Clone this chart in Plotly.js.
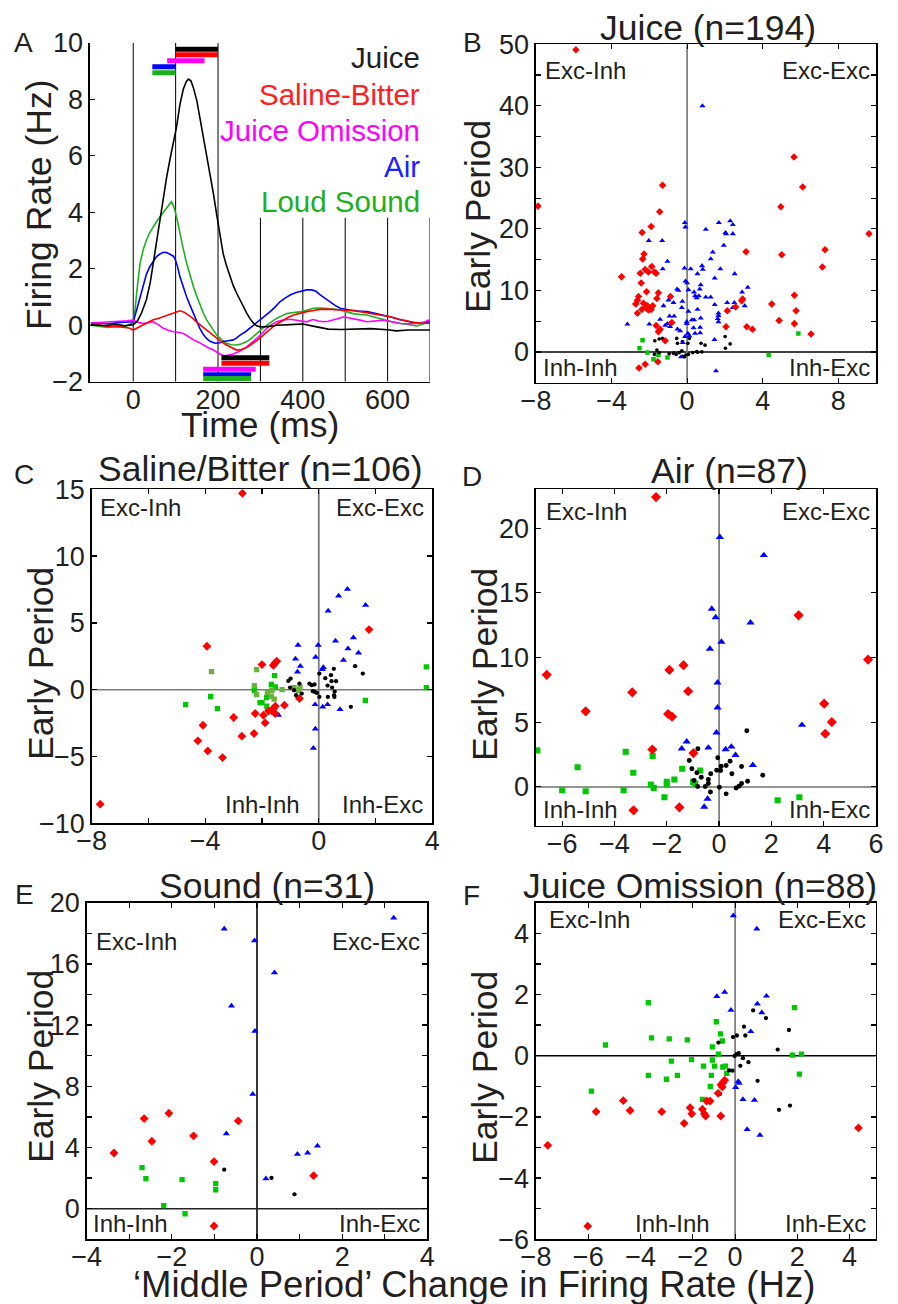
<!DOCTYPE html>
<html><head><meta charset="utf-8">
<script src="https://cdn.plot.ly/plotly-3.0.1.min.js"></script>
<style>html,body{margin:0;padding:0;background:#fff}</style>
</head><body><div id="chart" style="width:898px;height:1304px"></div>
<script>
// ---------------- DATA ----------------
// Panel A: population firing-rate curves  [time ms, rate Hz]
const juiceCurve = [[-100,0.02],[-70,-0.02],[-40,0.03],[-20,-0.02],[0,0.02],[10,0.15],[20,0.45],[31,0.9],[40,1.5],[47,2.2],[55,3.0],[63,3.84],[71,4.6],[79,5.26],[87,5.9],[94,6.44],[102,7.0],[110,7.8],[118,8.35],[125,8.62],[130,8.71],[136,8.65],[142,8.4],[150,7.95],[157,7.38],[165,6.7],[173,5.96],[181,5.3],[189,4.67],[197,3.9],[205,3.2],[212,2.54],[220,2.1],[228,1.72],[236,1.4],[244,1.13],[252,0.88],[260,0.65],[268,0.42],[275,0.24],[283,0.08],[291,-0.02],[300,-0.06],[315,-0.05],[340,0.0],[370,0.02],[400,0.04],[430,-0.05],[460,-0.14],[490,-0.15],[520,-0.13],[560,-0.12],[600,-0.16],[620,-0.2],[650,-0.17],[680,-0.16],[700,-0.17]];
const salineCurve = [[-100,0.06],[-80,0.02],[-55,-0.05],[-30,-0.06],[-10,-0.1],[0,-0.17],[12,-0.08],[24,0.0],[35,0.1],[47,0.19],[59,0.24],[71,0.3],[80,0.36],[90,0.41],[100,0.47],[110,0.51],[120,0.46],[130,0.36],[140,0.25],[149,0.12],[161,-0.02],[173,-0.17],[185,-0.32],[197,-0.47],[209,-0.6],[220,-0.7],[232,-0.8],[244,-0.88],[254,-0.86],[264,-0.82],[273,-0.74],[283,-0.64],[295,-0.5],[307,-0.35],[318,-0.2],[330,-0.05],[342,0.07],[354,0.19],[366,0.28],[378,0.36],[393,0.42],[409,0.48],[425,0.52],[441,0.56],[457,0.57],[472,0.56],[488,0.55],[503,0.54],[519,0.51],[535,0.48],[551,0.44],[566,0.41],[586,0.35],[606,0.3],[625,0.22],[645,0.15],[661,0.1],[677,0.08],[700,0.06]];
const omissionCurve = [[-100,0.08],[-70,0.1],[-39,0.14],[-15,0.16],[0,0.18],[12,0.1],[24,0.06],[35,0.1],[47,0.12],[59,0.02],[71,-0.11],[83,-0.18],[94,-0.23],[106,-0.25],[118,-0.29],[130,-0.4],[142,-0.52],[154,-0.6],[165,-0.7],[177,-0.8],[189,-0.88],[199,-0.98],[209,-1.06],[218,-1.08],[228,-1.06],[236,-1.02],[244,-0.97],[256,-0.88],[268,-0.76],[280,-0.62],[291,-0.47],[303,-0.3],[315,-0.11],[327,0.03],[338,0.12],[350,0.17],[362,0.2],[374,0.2],[386,0.18],[398,0.14],[409,0.12],[417,0.17],[425,0.2],[437,0.15],[448,0.12],[460,0.14],[472,0.18],[484,0.24],[496,0.3],[507,0.27],[519,0.24],[535,0.18],[551,0.12],[570,0.15],[590,0.18],[610,0.12],[629,0.06],[649,0.05],[669,0.06],[685,0.1],[696,0.18],[700,0.15]];
const airCurve = [[-100,0.08],[-60,0.05],[-30,0.1],[0,0.12],[8,0.54],[16,1.0],[24,1.48],[31,1.8],[39,2.07],[47,2.27],[55,2.43],[63,2.52],[71,2.58],[79,2.57],[87,2.52],[94,2.45],[98,2.37],[104,2.1],[110,1.72],[118,1.35],[126,1.0],[134,0.7],[142,0.41],[150,0.12],[157,-0.11],[165,-0.32],[173,-0.47],[181,-0.57],[193,-0.64],[205,-0.62],[212,-0.58],[224,-0.55],[236,-0.52],[244,-0.45],[252,-0.35],[264,-0.24],[275,-0.11],[287,0.04],[299,0.19],[311,0.33],[323,0.48],[335,0.65],[346,0.83],[358,0.96],[370,1.07],[384,1.16],[397,1.22],[409,1.25],[421,1.25],[431,1.2],[441,1.07],[452,0.95],[464,0.83],[476,0.7],[488,0.6],[500,0.56],[511,0.54],[531,0.5],[551,0.48],[570,0.42],[590,0.36],[610,0.28],[629,0.19],[649,0.12],[669,0.07],[690,0.1],[700,0.12]];
const soundCurve = [[-100,0.0],[-80,-0.05],[-60,-0.08],[-40,-0.03],[-20,-0.05],[0,0.1],[4,0.5],[8,1.13],[12,1.7],[16,2.19],[24,2.7],[31,3.01],[39,3.28],[47,3.49],[55,3.67],[63,3.84],[71,4.0],[79,4.14],[85,4.28],[90,4.37],[94,4.25],[98,4.08],[104,3.7],[110,3.25],[118,2.7],[126,2.19],[134,1.75],[142,1.36],[150,1.02],[157,0.72],[165,0.44],[173,0.19],[185,-0.1],[197,-0.35],[209,-0.52],[220,-0.64],[232,-0.69],[244,-0.7],[256,-0.66],[268,-0.58],[280,-0.45],[291,-0.29],[303,-0.14],[315,0.0],[327,0.13],[338,0.24],[350,0.33],[362,0.41],[378,0.45],[393,0.47],[409,0.53],[425,0.6],[441,0.61],[456,0.6],[472,0.57],[488,0.54],[503,0.48],[519,0.41],[535,0.38],[551,0.36],[570,0.28],[590,0.19],[610,0.12],[629,0.07],[649,0.02],[669,-0.03],[685,0.05],[700,0.12]];

const conditionNames = ['Juice','Saline-Bitter','Juice Omission','Air','Loud Sound'];
const conditionColors = ['#000000','#ff0000','#ff00ff','#0000ff','#1db01d'];
const legendTextColors = ['#231f20','#ff2020','#ff00ff','#2020ff','#1db01d'];
// significance bars (ms) per condition, early (top) and middle (bottom) periods
const sigTopStart = [100,100,80,45,45];
const sigTopEnd   = [200,200,168,100,100];
const sigTopLevel = [9.77,9.57,9.36,9.15,8.94];
const sigBotStart = [208,208,165,165,165];
const sigBotEnd   = [321,321,289,278,278];
const sigBotLevel = [-1.15,-1.35,-1.56,-1.74,-1.89];
const timeMarkers = [0,100,200,300,400,500,600,700];

// Panel B: Juice (n=194)  [middle change, early change]
const bRed = [[-5.89,49.1],[-7.9,23.7],[-1.3,27.1],[-1.45,22.8],[-2.38,19.4],[-1.9,20.4],[-2.28,15.9],[-2.35,15.1],[-3.47,12.2],[-2.48,12.8],[-2.22,13.4],[-1.87,13.9],[-2.05,13.0],[-1.73,13.0],[-1.64,12.8],[-2.43,11.2],[-2.15,9.8],[-1.52,9.6],[-1.6,8.7],[-0.88,9.0],[-2.57,9.0],[-2.63,8.4],[-2.72,7.8],[-2.31,7.9],[-2.1,7.5],[-2.17,7.2],[-2.4,6.9],[-2.63,6.3],[-1.82,7.5],[-1.9,6.9],[-2.05,6.8],[-1.64,4.3],[-1.52,3.3],[-1.43,3.7],[-1.16,1.8],[-0.81,4.8],[-2.55,-2.6],[-2.22,-2.0],[-1.55,-1.6],[3.12,16.3],[3.16,4.1],[3.46,3.7],[2.57,7.3],[2.89,8.3],[2.94,8.6],[2.13,6.7],[2.06,4.1],[5.66,31.7],[6.12,26.8],[4.96,23.6],[5.01,15.8],[4.48,7.8],[4.87,5.1],[5.68,9.2],[5.77,6.7],[5.68,4.6],[6.56,2.9],[7.3,16.6],[7.16,13.8],[9.63,19.2]];
const bBlue = [[-0.12,21.0],[-0.09,20.3],[1.68,21.0],[2.28,21.3],[2.42,20.7],[0.99,19.9],[2.03,19.4],[2.06,19.2],[2.42,19.2],[-2.03,18.1],[-1.32,18.1],[1.94,17.3],[1.36,16.2],[1.25,15.1],[-1.04,14.7],[1.76,13.5],[0.79,14.0],[0.83,13.4],[-0.14,13.6],[0.19,13.5],[-1.29,13.5],[0.55,12.7],[-0.09,11.5],[0.0,11.2],[1.46,12.0],[0.72,10.9],[0.67,10.2],[2.52,12.7],[-0.53,10.2],[-0.46,10.0],[0.07,10.1],[0.37,9.7],[0.62,9.1],[0.99,8.9],[1.25,8.9],[0.42,9.1],[0.51,8.8],[-0.99,8.4],[-0.72,8.0],[-0.25,8.2],[-1.85,7.5],[-1.25,7.5],[1.46,7.7],[2.12,8.0],[2.42,7.2],[2.5,8.0],[-0.28,7.2],[0.55,6.9],[0.07,6.6],[-0.69,5.8],[-1.43,5.3],[-0.93,5.8],[1.66,6.3],[1.66,5.9],[1.66,4.9],[1.62,5.4],[0.72,5.5],[0.25,5.2],[0.37,5.2],[-0.02,4.9],[-0.02,4.6],[-3.16,4.5],[-2.0,4.5],[-1.16,4.3],[-1.04,4.6],[-0.9,4.1],[-0.51,3.7],[-0.37,3.4],[-1.43,3.7],[0.34,3.9],[0.42,3.0],[0.69,4.0],[0.69,3.1],[0.04,3.0],[0.12,2.6],[-0.11,2.5],[1.45,2.0],[-0.23,1.5],[-0.32,-0.8],[1.53,-3.1],[0.81,40.0],[3.21,10.5],[2.91,9.7],[3.05,7.5]];
const bBlack = [[-1.71,1.8],[-1.48,2.1],[-1.31,2.2],[-0.55,2.2],[-0.51,1.4],[-0.25,1.7],[0.04,1.4],[0.12,2.2],[0.74,1.4],[0.95,1.1],[-1.6,0.3],[-1.48,-0.1],[-0.95,-0.3],[-0.72,-0.2],[-0.58,-0.4],[-0.42,-0.1],[-0.28,0.2],[-0.23,-0.7],[-0.14,-0.8],[-0.07,-0.5],[0.07,-0.4],[0.3,-0.1],[0.51,0.05],[0.56,-0.05],[0.78,0.0],[-1.73,-0.4],[2.01,2.5],[2.28,1.3],[2.03,0.6]];
const bGreen = [[-2.36,1.9],[-2.52,0.6],[-2.1,-0.1],[-1.78,-1.2],[-1.52,-0.5],[-1.04,-0.9],[4.32,-0.5],[5.89,3.0]];

// Panel C: Saline/Bitter (n=106)
const cRed = [[-2.69,14.7],[-7.7,-8.57],[-3.94,3.25],[-2.0,1.88],[-1.6,1.83],[-1.54,2.0],[-1.48,2.13],[1.77,4.5],[-0.68,-0.66],[-1.21,-1.16],[-1.53,-1.24],[-1.6,-1.41],[-1.65,-1.58],[-1.77,-1.58],[-1.54,-1.78],[-1.95,-1.91],[-2.24,-1.78],[-1.89,-2.48],[-3.0,-2.08],[-4.08,-2.66],[-2.71,-3.48],[-2.28,-3.28],[-4.26,-3.83],[-3.91,-4.58],[-3.39,-5.08]];
const cBlue = [[1.01,7.52],[0.7,7.02],[1.65,6.32],[0.33,5.9],[0.59,3.65],[1.22,3.9],[1.03,3.08],[1.4,2.76],[0.87,2.21],[-0.73,3.33],[-0.02,3.33],[-0.82,2.31],[-0.11,2.43],[-0.65,1.76],[-0.75,1.33],[0.16,1.66],[0.13,1.51],[-0.13,-1.11],[0.14,-1.28],[0.31,-1.11],[0.75,-1.48],[-1.42,-1.91],[-0.12,-2.93],[-0.19,-4.38]];
const cBlack = [[-1.07,0.66],[-0.99,0.83],[-1.01,0.16],[-0.87,-0.04],[-0.68,0.46],[-0.8,-0.41],[-0.74,-0.59],[-0.6,-0.29],[-0.33,0.46],[-0.25,0.34],[-0.15,0.39],[-0.21,-0.11],[-0.15,-0.16],[-0.07,-0.24],[0.02,-0.54],[0.02,1.21],[0.23,0.86],[0.43,1.09],[0.53,1.56],[0.31,0.31],[0.45,0.64],[0.61,0.64],[0.47,0.16],[0.56,-0.14],[0.54,-0.41],[0.32,-0.54],[0.55,-0.54],[1.28,1.76],[1.55,1.21],[1.13,-1.28]];
const cGreen = [[-4.69,-1.11],[-3.81,-0.51],[-3.57,-1.41],[-2.27,-0.06],[-1.56,1.06],[-1.67,0.39],[-1.53,0.21],[-1.84,-0.59],[-2.07,-0.96],[-2.0,-0.96],[-1.83,-1.24],[1.64,-0.81],[3.79,1.71],[3.79,0.16]];
const cOlive = [[-3.78,1.36],[-2.19,1.51],[-2.27,0.31],[-2.19,-0.36],[-1.81,-0.21],[-1.65,-0.04],[-1.67,-0.49],[-1.57,-0.71],[-1.29,0.01],[-0.87,0.16],[-0.66,0.21],[-0.72,-0.04]];

// Panel D: Air (n=87)
const dRed = [[-2.41,22.4],[-6.59,8.66],[-5.1,5.84],[-3.32,7.31],[-1.9,9.04],[-1.36,9.41],[-1.18,7.39],[-1.95,5.63],[-1.8,5.43],[-2.55,2.89],[-0.98,2.61],[-3.27,-1.81],[-1.52,-1.58],[3.04,13.26],[5.7,9.84],[4.02,6.43],[4.31,5.01],[4.06,4.11]];
const dBlue = [[0.03,19.3],[1.71,17.9],[-0.28,13.75],[-0.13,13.1],[1.2,12.7],[0.09,11.2],[-0.35,10.67],[-0.06,8.06],[-0.06,6.12],[-0.1,4.19],[3.17,4.78],[-1.24,3.49],[-1.43,2.95],[-0.41,3.02],[0.25,2.89],[0.47,3.1],[0.63,2.45],[1.29,1.68],[-0.44,-0.93],[-0.57,-1.55]];
const dBlack = [[1.06,4.34],[-0.81,2.95],[-0.05,2.25],[-1.14,2.04],[-1.04,1.4],[-0.85,1.09],[-0.32,1.01],[-0.68,0.75],[-0.41,0.57],[-0.96,0.49],[-0.41,0.26],[-0.82,0.03],[-0.53,0.03],[-0.33,-0.39],[-0.09,1.29],[0.06,1.27],[0.08,1.6],[0.27,1.65],[0.42,1.99],[0.86,1.58],[0.49,1.01],[0.01,-0.03],[0.27,-0.54],[0.65,-0.08],[0.76,0.05],[0.86,0.26],[1.09,0.44],[1.67,0.9]];
const dGreen = [[-6.95,2.82],[-5.41,1.52],[-6.0,-0.26],[-5.1,-0.34],[-3.57,2.71],[-3.28,1.09],[-3.65,-0.26],[-2.54,2.38],[-2.61,0.18],[-2.5,-0.08],[-2.0,0.39],[-2.0,0.18],[-2.09,-0.8],[-1.71,0.57],[-1.41,1.4],[-0.72,1.27],[-0.99,0.39],[-0.91,0.23],[2.24,-1.03],[3.07,-0.8]];

// Panel E: Sound (n=31)
const eRed = [[-3.36,3.64],[-2.65,5.89],[-2.07,6.24],[-2.47,4.41],[-1.49,4.76],[-0.44,5.74],[-1.01,3.08],[-1.01,-1.13],[1.33,2.16]];
const eBlue = [[-0.77,18.28],[-0.06,17.52],[3.21,19.0],[0.41,15.42],[-0.6,13.26],[-0.05,11.6],[-0.1,7.48],[-0.72,4.91],[0.21,1.96],[0.95,3.56],[1.19,3.64],[1.42,4.1]];
const eBlack = [[-0.77,2.55],[0.34,2.01],[0.88,0.94]];
const eGreen = [[-2.7,2.68],[-2.61,1.96],[-1.76,1.9],[-0.97,1.64],[-0.97,1.24],[-2.19,0.2],[-1.69,-0.33]];

// Panel F: Juice Omission (n=88)
const fRed = [[-4.66,-1.47],[-5.7,-1.83],[-4.4,-1.79],[-3.19,-1.83],[-2.33,-2.21],[-2.1,-1.7],[-2.04,-1.9],[-1.63,-1.75],[-1.56,-1.9],[-1.51,-1.97],[-1.47,-1.48],[-1.34,-1.48],[-0.93,-1.97],[-1.03,-1.23],[-0.92,-0.95],[-0.85,-0.88],[-0.78,-0.8],[-0.87,-1.02],[-7.55,-2.93],[-6.02,-5.57],[4.34,-2.36]];
const fBlue = [[-0.45,4.58],[0.45,4.14],[-1.08,1.94],[-0.78,2.08],[0.82,1.95],[0.47,1.69],[0.64,1.41],[-0.54,1.49],[0.22,0.79],[-0.26,-0.84],[-0.23,-0.9],[-0.36,-1.04],[-0.08,-1.43],[0.36,-1.45],[0.08,-2.41],[0.57,-2.6]];
const fBlack = [[0.31,1.48],[0.8,1.23],[-0.04,0.95],[-0.46,0.61],[-0.31,0.66],[0.01,0.66],[-1.02,0.43],[1.68,0.84],[1.25,0.2],[-0.4,-0.01],[-0.32,0.05],[-0.24,0.08],[-0.08,-0.08],[0.13,-0.21],[-0.18,-0.33],[-0.61,-0.48],[-0.48,-0.49],[0.48,-0.82],[-0.96,-1.25],[1.3,-1.77],[1.72,-1.63]];
const fGreen = [[-3.7,1.73],[-5.34,0.35],[-3.58,0.58],[-2.9,0.55],[-2.21,0.52],[-1.1,1.11],[-0.94,0.71],[-0.87,0.48],[-1.25,0.29],[-1.02,0.05],[-2.82,-0.18],[-2.05,-0.13],[-1.25,-0.14],[-1.59,-0.34],[-1.17,-0.34],[-0.85,-0.37],[-0.75,-0.34],[-0.7,-0.58],[-3.7,-0.64],[-2.59,-0.64],[-3.01,-0.77],[-1.29,-0.64],[-1.33,-1.0],[-5.88,-1.16],[-1.63,-1.43],[1.89,1.57],[1.81,0.02],[2.16,0.05],[2.08,-0.6]];

const panelTitles = ['Juice (n=194)','Saline/Bitter (n=106)','Air (n=87)','Sound (n=31)','Juice Omission (n=88)'];
const quadrantLabels = ['Exc-Inh','Exc-Exc','Inh-Inh','Inh-Exc'];

// ---------------- LAYOUT HELPERS ----------------
const W = 898, H = 1304;
const FONT = "'Liberation Sans', Arial, Helvetica, sans-serif";
const TXT = '#231f20';
const boxes = {A:[90,430,42.7,381.7],B:[536,876,44.3,382.7],C:[91.7,432.3,489.3,823.3],D:[536,876,489.3,825.7],E:[86.7,427.3,902.7,1239.3],F:[536,875.7,902.7,1239.3]};
const xd = b => [b[0]/W, b[1]/W];
const yd = b => [1-b[3]/H, 1-b[2]/H];
const minus = v => (v<0 ? '\u2212'+Math.abs(v) : String(v));

function axis(extra){
  return Object.assign({showline:true,linecolor:'#000',linewidth:1.6,mirror:'ticks',ticks:'inside',ticklen:5,tickwidth:1.2,tickcolor:'#000',
    showgrid:false,zeroline:false,tickmode:'array',fixedrange:true,tickfont:{family:FONT,size:27,color:TXT}},extra);
}
function xaxis(extra){ return axis(Object.assign({ticklabelstandoff:-7},extra)); }
function ticks(vals, every){ return {tickvals:vals, ticktext:vals.map((v,i)=> (i%every===0? minus(v):''))}; }
function ann(text,px,py,size,o){
  o=o||{};
  return {text, x:px/W, y:1-py/H, xref:'paper', yref:'paper', showarrow:false, textangle:o.angle||0,
    font:{family:FONT,size,color:o.color||TXT}, xanchor:o.xa||'center', yanchor:'middle', borderpad:0};
}

const traces = [];
const shapes = [];
const annotations = [];

// ---------------- PANEL A ----------------
const curves = [juiceCurve, salineCurve, omissionCurve, airCurve, soundCurve];
timeMarkers.forEach(t=>{
  shapes.push({type:'line',xref:'x',yref:'y',x0:t,x1:t,y0:-2,y1:(t<300?10:3.8),line:{color:'#000',width:1},layer:'below'});
});
[4,3,2,1,0].forEach(i=>{
  traces.push({type:'scatter',mode:'lines',xaxis:'x',yaxis:'y',x:curves[i].map(p=>p[0]),y:curves[i].map(p=>p[1]),
    line:{color:conditionColors[i],width:1.6},hoverinfo:'skip'});
});
for(let i=0;i<5;i++){
  traces.push({type:'scatter',mode:'lines',xaxis:'x',yaxis:'y',x:[sigTopStart[i],sigTopEnd[i]],y:[sigTopLevel[i],sigTopLevel[i]],
    line:{color:conditionColors[i],width:5},hoverinfo:'skip',cliponaxis:false});
  traces.push({type:'scatter',mode:'lines',xaxis:'x',yaxis:'y',x:[sigBotStart[i],sigBotEnd[i]],y:[sigBotLevel[i],sigBotLevel[i]],
    line:{color:conditionColors[i],width:(i===3?4:5)},hoverinfo:'skip',cliponaxis:false});
}
const legendY = [57.5,94,130.5,166,201.7];
conditionNames.forEach((n,i)=>annotations.push(ann(n,421,legendY[i],29.5,{color:legendTextColors[i],xa:'right'})));

// ---------------- SCATTER PANELS ----------------
const markerStyles = {
  red:{symbol:'diamond',size:6.8,color:'#ff0000'},
  blue:{symbol:'triangle-up',size:6.3,color:'#0000ff'},
  green:{symbol:'square',size:5.3,color:'#00c800'},
  olive:{symbol:'square',size:5.3,color:'#6ab23a'},
  black:{symbol:'circle',size:4.3,color:'#000000'}
};
function addPoints(pts, style, xa, ya, scale){
  const m = markerStyles[style];
  traces.push({type:'scatter',mode:'markers',xaxis:xa,yaxis:ya,x:pts.map(p=>p[0]),y:pts.map(p=>p[1]),
    marker:{symbol:m.symbol,size:m.size*scale,color:m.color,line:{width:0}},hoverinfo:'skip'});
}
const panels = [
  {key:'B',xa:'x2',ya:'y2',xr:[-8,10],yr:[-5,50],zx:0,hcol:'#000',vcol:'#808080',scale:0.85,sets:[[bGreen,'green'],[bBlack,'black'],[bBlue,'blue'],[bRed,'red']]},
  {key:'C',xa:'x3',ya:'y3',xr:[-8,4],yr:[-10,15],zx:0,hcol:'#7a7a7a',vcol:'#7a7a7a',scale:1.0,sets:[[cGreen,'green'],[cOlive,'olive'],[cBlack,'black'],[cBlue,'blue'],[cRed,'red']]},
  {key:'D',xa:'x4',ya:'y4',xr:[-7,6],yr:[-3,23],zx:0,hcol:'#707070',vcol:'#808080',scale:1.15,sets:[[dGreen,'green'],[dBlack,'black'],[dBlue,'blue'],[dRed,'red']]},
  {key:'E',xa:'x5',ya:'y5',xr:[-4,4],yr:[-2,20],zx:0,hcol:'#222',vcol:'#222',scale:1.0,sets:[[eGreen,'green'],[eBlack,'black'],[eBlue,'blue'],[eRed,'red']]},
  {key:'F',xa:'x6',ya:'y6',xr:[-8,5],yr:[-6,5],zx:-0.38,hcol:'#000',vcol:'#808080',scale:1.0,sets:[[fGreen,'green'],[fBlack,'black'],[fBlue,'blue'],[fRed,'red']]}
];
panels.forEach(p=>{
  shapes.push({type:'line',xref:p.xa,yref:p.ya,x0:p.xr[0],x1:p.xr[1],y0:0,y1:0,line:{color:p.hcol,width:1.5},layer:'below'});
  shapes.push({type:'line',xref:p.xa,yref:p.ya,x0:p.zx,x1:p.zx,y0:p.yr[0],y1:p.yr[1],line:{color:p.vcol,width:1.8},layer:'below'});
  p.sets.forEach(s=>addPoints(s[0],s[1],p.xa,p.ya,p.scale));
});

// ---------------- TEXT ----------------
[['A',23,42],['B',472,42],['C',24,475],['D',472,476],['E',24,894],['F',471,895]].forEach(a=>annotations.push(ann(a[0],a[1],a[2],28)));
const titlePos = [[707.5,28],[260,469],[729,471.5],[266.5,886],[700,886]];
panelTitles.forEach((t,i)=>annotations.push(ann(t,titlePos[i][0],titlePos[i][1],35.5)));
// quadrant label positions per panel
const quadPos = [
  [544.3,870.7,71, 541.7,'left',870.7,367],
  [99,425,507.5, 301,'right',424.3,804],
  [544.7,870.7,512, 541.7,'left',870.7,809.5],
  [95,420.7,941, 92.3,'left',420.7,1223],
  [547.7,866.7,919, 634.3,'left',866.7,1223.5]
];
quadPos.forEach(q=>{
  annotations.push(ann(quadrantLabels[0],q[0],q[2],24,{xa:'left'}));
  annotations.push(ann(quadrantLabels[1],q[1],q[2],24,{xa:'right'}));
  annotations.push(ann(quadrantLabels[2],q[3],q[6],24,{xa:q[4]}));
  annotations.push(ann(quadrantLabels[3],q[5],q[6],24,{xa:'right'}));
});
annotations.push(ann('Time (ms)',260,425,35.5));
annotations.push(ann('Firing Rate (Hz)',39,205,35.5,{angle:-90}));
[[478,217],[41,664],[485,664],[41,1067],[485,1067]].forEach(p=>annotations.push(ann('Early Period',p[0],p[1],35.5,{angle:-90})));
annotations.push(ann('\u2018Middle Period\u2019 Change in Firing Rate (Hz)',474,1284,36.5));

// ---------------- AXES ----------------
const layout = {
  width:W,height:H,margin:{l:0,r:0,t:0,b:0},paper_bgcolor:'#fff',plot_bgcolor:'rgba(0,0,0,0)',showlegend:false,
  shapes, annotations,
  xaxis: xaxis(Object.assign({domain:xd(boxes.A),anchor:'y',range:[-102,700],mirror:false,ticks:''},ticks([0,200,400,600],1))),
  yaxis: axis(Object.assign({domain:yd(boxes.A),anchor:'x',range:[-2,10],mirror:false},ticks([-2,0,2,4,6,8,10],1))),
  xaxis2: xaxis(Object.assign({domain:xd(boxes.B),anchor:'y2',range:[-8,10]},ticks([-8,-4,0,4,8],1))),
  yaxis2: axis(Object.assign({domain:yd(boxes.B),anchor:'x2',range:[-5,50]},ticks([0,5,10,15,20,25,30,35,40,45,50],2))),
  xaxis3: xaxis(Object.assign({domain:xd(boxes.C),anchor:'y3',range:[-8,4]},ticks([-8,-6,-4,-2,0,2,4],2))),
  yaxis3: axis(Object.assign({domain:yd(boxes.C),anchor:'x3',range:[-10,15]},ticks([-10,-5,0,5,10,15],1))),
  xaxis4: xaxis(Object.assign({domain:xd(boxes.D),anchor:'y4',range:[-7,6]},ticks([-6,-4,-2,0,2,4,6],1))),
  yaxis4: axis(Object.assign({domain:yd(boxes.D),anchor:'x4',range:[-3,23]},ticks([0,5,10,15,20],1))),
  xaxis5: xaxis(Object.assign({domain:xd(boxes.E),anchor:'y5',range:[-4,4]},ticks([-4,-3,-2,-1,0,1,2,3,4],2))),
  yaxis5: axis(Object.assign({domain:yd(boxes.E),anchor:'x5',range:[-2,20]},ticks([0,2,4,6,8,10,12,14,16,18,20],2))),
  xaxis6: xaxis(Object.assign({domain:xd(boxes.F),anchor:'y6',range:[-8,5]},{tickvals:[-8,-6,-4,-2,-0.38,2,4],ticktext:['\u22128','\u22126','\u22124','\u22122','0','2','4']})),
  yaxis6: axis(Object.assign({domain:yd(boxes.F),anchor:'x6',range:[-6,5]},ticks([-6,-5,-4,-3,-2,-1,0,1,2,3,4],2)))
};
Plotly.newPlot('chart', traces, layout, {staticPlot:true, displayModeBar:false});
</script></body></html>
